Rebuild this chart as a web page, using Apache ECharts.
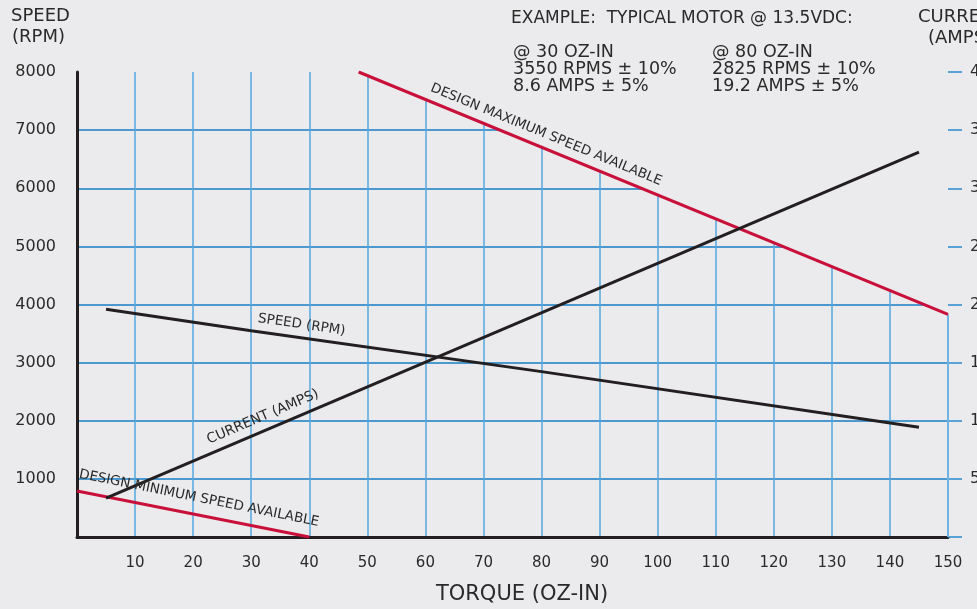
<!DOCTYPE html>
<html><head><meta charset="utf-8">
<script src="https://cdn.jsdelivr.net/npm/echarts@6/dist/echarts.min.js"></script>
<style>html,body{margin:0;padding:0;background:#ebebed;}#c{width:977px;height:609px;}</style>
</head><body><div id="c"></div>
<script>
// ---- data ----
const speedTorque = [5, 30, 80, 145];
const speedRPM = [3920, 3550, 2845, 1890];
const currentTorque = [5, 145];
const currentAmps = [3.35, 33.1];
const maxSpeedTorque = [48.5, 150];
const maxSpeedRPM = [8000, 3830];
const minSpeedTorque = [0, 40];
const minSpeedRPM = [790, 0];
const example30 = ['@ 30 OZ-IN', '3550 RPMS ± 10%', '8.6 AMPS ± 5%'];
const example80 = ['@ 80 OZ-IN', '2825 RPMS ± 10%', '19.2 AMPS ± 5%'];

const zip = (a, b) => a.map((v, i) => [v, b[i]]);
const BG = '#ebebed', RED = '#c8103a', BLK = '#231f20', FONT = 'DejaVu Sans', TXT = '#2a2a2a';
const VBLUE = '#55a7dc', HBLUE = '#1a7cc6';
const chart = echarts.init(document.getElementById('c'), null, {renderer: 'canvas'});

const lastX = maxSpeedTorque[maxSpeedTorque.length - 1];
const lastY = maxSpeedRPM[maxSpeedRPM.length - 1];

chart.setOption({
  backgroundColor: BG,
  animation: false,
  grid: {left: 77, right: 29, top: 72, bottom: 72, containLabel: false, outerBoundsMode: 'none'},
  xAxis: {
    type: 'value', min: 0, max: 150, interval: 10,
    axisLine: {show: true, onZero: false, lineStyle: {color: BLK, width: 3}},
    axisTick: {show: false},
    axisLabel: {margin: 19, color: TXT, fontSize: 15, fontFamily: FONT,
      formatter: v => v === 0 ? '' : String(v)},
    splitLine: {show: true, showMinLine: false, showMaxLine: false, lineStyle: {color: VBLUE, width: 1.5}}
  },
  yAxis: [{
    type: 'value', min: 0, max: 8000, interval: 1000,
    axisLine: {show: true, onZero: false, lineStyle: {color: BLK, width: 3}},
    axisTick: {show: false},
    axisLabel: {margin: 21, color: TXT, fontSize: 16, fontFamily: FONT,
      formatter: v => v === 0 ? '' : String(v)},
    splitLine: {show: true, showMinLine: false, showMaxLine: false, lineStyle: {color: HBLUE, width: 1.5}}
  }, {
    type: 'value', min: 0, max: 40, interval: 5, position: 'right',
    axisLine: {show: false, onZero: false},
    axisTick: {show: true, inside: false, length: 14, lineStyle: {color: '#2a8ad0', width: 1.5}},
    axisLabel: {margin: 22, color: TXT, fontSize: 16, fontFamily: FONT, align: 'left',
      formatter: v => v === 0 ? '' : String(v)},
    splitLine: {show: false}
  }],
  series: [
    {type: 'line', name: 'max', data: zip(maxSpeedTorque, maxSpeedRPM), symbol: 'none', z: 3,
      lineStyle: {color: RED, width: 3}, areaStyle: {origin: 'end', color: BG, opacity: 1},
      markLine: {silent: true, symbol: 'none', z: 2, label: {show: false},
        lineStyle: {color: '#6db4e0', width: 2, type: 'solid'},
        data: [[{coord: [lastX, 0]}, {coord: [lastX, lastY]}]]}},
    {type: 'line', name: 'min', data: zip(minSpeedTorque, minSpeedRPM), symbol: 'none', z: 4,
      lineStyle: {color: RED, width: 3}},
    {type: 'line', name: 'speed', data: zip(speedTorque, speedRPM), symbol: 'none', z: 4,
      lineStyle: {color: BLK, width: 3}},
    {type: 'line', name: 'current', yAxisIndex: 1, data: zip(currentTorque, currentAmps), symbol: 'none', z: 4,
      lineStyle: {color: BLK, width: 3}}
  ]
});

// annotation anchors (data coordinates of the label centres) and rotations
const notes = [
  {text: 'DESIGN MAXIMUM SPEED AVAILABLE', at: [80.8, 6920], deg: -22.3, size: 13.5},
  {text: 'DESIGN MINIMUM SPEED AVAILABLE', at: [21.0, 665], deg: -11.4, size: 13.5},
  {text: 'SPEED (RPM)', at: [38.7, 3650], deg: -8.3, size: 13.5},
  {text: 'CURRENT (AMPS)', at: [32.0, 2065], deg: 23.1, size: 13.8}
];
const g = [];
notes.forEach(n => {
  const p = chart.convertToPixel({gridIndex: 0}, n.at);
  g.push({type: 'text', x: p[0], y: p[1], rotation: n.deg * Math.PI / 180, z: 100,
    style: {text: n.text, fontSize: n.size, fontFamily: FONT, fill: TXT, align: 'center', verticalAlign: 'middle'}});
});
const txt = (s, x, y, size, align) => ({type: 'text', x, y, z: 100,
  style: {text: s, fontSize: size, fontFamily: FONT, fill: TXT, align: align || 'left', verticalAlign: 'middle'}});
g.push(txt('SPEED', 11, 16, 18));
g.push(txt('(RPM)', 12, 37, 18));
g.push(txt('CURRENT', 918, 17, 18));
g.push(txt('(AMPS)', 928, 38, 18));
g.push(txt('EXAMPLE:  TYPICAL MOTOR @ 13.5VDC:', 511, 18.5, 17));
example30.forEach((s, i) => g.push(txt(s, 513, 52 + i * 17, 17.5)));
example80.forEach((s, i) => g.push(txt(s, 712, 52 + i * 17, 17.5)));
g.push(txt('TORQUE (OZ-IN)', 522, 594.5, 21, 'center'));
chart.setOption({graphic: g});
</script></body></html>
